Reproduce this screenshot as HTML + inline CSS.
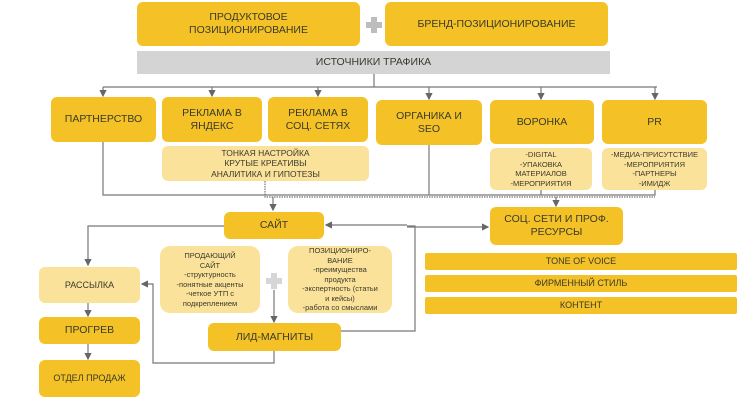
<!DOCTYPE html>
<html><head><meta charset="utf-8"><style>
body{margin:0;width:746px;height:400px;background:#fff;position:relative;overflow:hidden;font-family:"Liberation Sans",sans-serif;color:#3a3a2a}
.b{position:absolute;background:#f4c226;border-radius:6px;display:flex;align-items:center;justify-content:center;text-align:center;font-size:10.5px;line-height:13px;box-sizing:border-box}
.l{background:#fbe29b}
.s{font-size:7.5px;line-height:9.5px}
svg{position:absolute;left:0;top:0}
</style></head><body>
<svg width="746" height="400">
<defs><marker id="a" markerWidth="6" markerHeight="6" refX="5" refY="3" orient="auto"><path d="M0,0L6,3L0,6z" fill="#666"/></marker></defs>
<g stroke="#777" stroke-width="1.2" fill="none">
<path d="M374,74V87M103,87H657"/>
<path d="M103,87V96" marker-end="url(#a)"/><path d="M212,87V96" marker-end="url(#a)"/><path d="M318,87V96" marker-end="url(#a)"/><path d="M429,87V99" marker-end="url(#a)"/><path d="M541,87V99" marker-end="url(#a)"/><path d="M655,87V99" marker-end="url(#a)"/>
<path d="M103,142V195H655V190M429,145V195M541,190V195"/>
<path d="M265,181V197H655" stroke-dasharray="1.5,1"/>
<path d="M273,197V210" marker-end="url(#a)"/><path d="M556,197V206" marker-end="url(#a)"/>
<path d="M224,226H88V265" marker-end="url(#a)"/>
<path d="M88,303V316" marker-end="url(#a)"/><path d="M88,344V359" marker-end="url(#a)"/>
<path d="M274,290V322" marker-end="url(#a)"/>
<path d="M341,331H415V226H407" /><path d="M407,225H326" marker-end="url(#a)"/>
<path d="M407,227H488" marker-end="url(#a)"/>
<path d="M274,351V363H153V284H142" marker-end="url(#a)"/>
</g>
<rect x="366" y="22" width="16" height="6" fill="#bdbdbd"/>
<rect x="371" y="17" width="6" height="16" fill="#bdbdbd"/>
<rect x="266" y="278" width="16" height="6" fill="#d6d6d6"/>
<rect x="271" y="273" width="6" height="16" fill="#d6d6d6"/>
</svg>
<div class="b" style="left:137px;top:2px;width:223px;height:44px">ПРОДУКТОВОЕ<br>ПОЗИЦИОНИРОВАНИЕ</div>
<div class="b" style="left:385px;top:2px;width:223px;height:44px">БРЕНД-ПОЗИЦИОНИРОВАНИЕ</div>
<div class="b" style="left:137px;top:51px;width:473px;height:23px;background:#d4d4d4;border-radius:0">ИСТОЧНИКИ ТРАФИКА</div>
<div class="b" style="left:51px;top:97px;width:105px;height:45px">ПАРТНЕРСТВО</div>
<div class="b" style="left:162px;top:97px;width:100px;height:45px">РЕКЛАМА В<br>ЯНДЕКС</div>
<div class="b" style="left:268px;top:97px;width:100px;height:45px">РЕКЛАМА В<br>СОЦ. СЕТЯХ</div>
<div class="b" style="left:376px;top:100px;width:106px;height:45px">ОРГАНИКА И<br>SEO</div>
<div class="b" style="left:490px;top:100px;width:104px;height:44px">ВОРОНКА</div>
<div class="b" style="left:602px;top:100px;width:105px;height:44px">PR</div>
<div class="b l" style="left:162px;top:146px;width:207px;height:35px;font-size:8.5px;line-height:10.5px">ТОНКАЯ НАСТРОЙКА<br>КРУТЫЕ КРЕАТИВЫ<br>АНАЛИТИКА И ГИПОТЕЗЫ</div>
<div class="b l s" style="left:490px;top:148px;width:102px;height:42px">-DIGITAL<br>-УПАКОВКА<br>МАТЕРИАЛОВ<br>-МЕРОПРИЯТИЯ</div>
<div class="b l s" style="left:602px;top:148px;width:105px;height:42px">-МЕДИА-ПРИСУТСТВИЕ<br>-МЕРОПРИЯТИЯ<br>-ПАРТНЕРЫ<br>-ИМИДЖ</div>
<div class="b" style="left:224px;top:212px;width:100px;height:27px">САЙТ</div>
<div class="b" style="left:490px;top:207px;width:133px;height:38px">СОЦ. СЕТИ И ПРОФ.<br>РЕСУРСЫ</div>
<div class="b" style="left:425px;top:253px;width:312px;height:17px;border-radius:2px;font-size:9px">TONE OF VOICE</div>
<div class="b" style="left:425px;top:275px;width:312px;height:17px;border-radius:2px;font-size:9px">ФИРМЕННЫЙ СТИЛЬ</div>
<div class="b" style="left:425px;top:297px;width:312px;height:17px;border-radius:2px;font-size:9px">КОНТЕНТ</div>
<div class="b l" style="left:39px;top:267px;width:101px;height:36px;font-size:9px">РАССЫЛКА</div>
<div class="b" style="left:39px;top:317px;width:101px;height:27px">ПРОГРЕВ</div>
<div class="b" style="left:39px;top:360px;width:101px;height:37px;font-size:9px">ОТДЕЛ ПРОДАЖ</div>
<div class="b l s" style="left:160px;top:246px;width:100px;height:67px;border-radius:10px">ПРОДАЮЩИЙ<br>САЙТ<br>-структурность<br>-понятные акценты<br>-четкое УТП с<br>подкреплением</div>
<div class="b l s" style="left:288px;top:246px;width:104px;height:67px;border-radius:10px">ПОЗИЦИОНИРО-<br>ВАНИЕ<br>-преимущества<br>продукта<br>-экспертность (статьи<br>и кейсы)<br>-работа со смыслами</div>
<div class="b" style="left:208px;top:323px;width:133px;height:28px">ЛИД-МАГНИТЫ</div>
</body></html>
